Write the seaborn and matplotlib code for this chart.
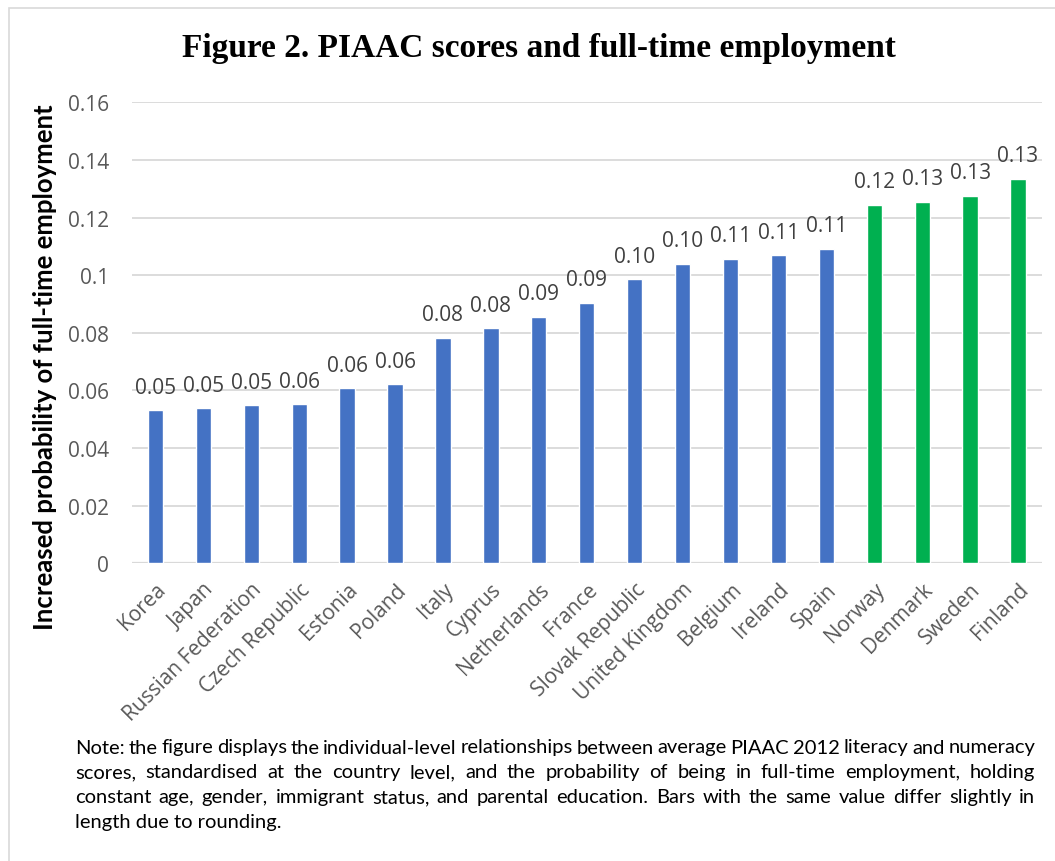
import matplotlib
matplotlib.use("Agg")
import matplotlib.pyplot as plt
import seaborn as sns
from matplotlib.patches import Rectangle

countries = ["Korea", "Japan", "Russian Federation", "Czech Republic", "Estonia",
             "Poland", "Italy", "Cyprus", "Netherlands", "France", "Slovak Republic",
             "United Kingdom", "Belgium", "Ireland", "Spain", "Norway", "Denmark",
             "Sweden", "Finland"]
values = [0.0532, 0.0538, 0.0549, 0.0552, 0.0608, 0.0622, 0.0782, 0.0815, 0.0856,
          0.0904, 0.0986, 0.1039, 0.1057, 0.1069, 0.1092, 0.1244, 0.1254, 0.1275,
          0.1334]
nordic = ["Norway", "Denmark", "Sweden", "Finland"]
yticks = [0, 0.02, 0.04, 0.06, 0.08, 0.1, 0.12, 0.14, 0.16]
ytick_labels = ["0", "0.02", "0.04", "0.06", "0.08", "0.1", "0.12", "0.14", "0.16"]

title = "Figure 2. PIAAC scores and full-time employment"
ylabel = "Increased probability of full-time employment"
note_lines = [
    "Note: the figure displays the individual-level relationships between average PIAAC 2012 literacy and numeracy",
    "scores, standardised at the country level, and the probability of being in full-time employment, holding",
    "constant age, gender, immigrant status, and parental education. Bars with the same value differ slightly in",
    "length due to rounding.",
]

BLUE = "#4472C4"
GREEN = "#00B050"
GRID = "#D9D9D9"
TXT = "#595959"

sns.set_theme(style="white")
plt.rcParams["font.family"] = ["Open Sans", "DejaVu Sans"]

W, H = 1055, 862
fig = plt.figure(figsize=(W / 100, H / 100), dpi=100)
fig.patch.set_facecolor("white")

# light frame round the chart
fig.patches.append(Rectangle((9 / W, -0.05), 1.2, 1 - 9 / H + 0.05,
                             transform=fig.transFigure, fill=False,
                             edgecolor="#D9D9D9", linewidth=1.2))

ax = fig.add_axes([131.5 / W, 1 - 564.3 / H, (1042 - 131.5) / W, (564.3 - 103.3) / H])

palette = {c: (GREEN if c in nordic else BLUE) for c in countries}
sns.barplot(x=countries, y=values, hue=countries, palette=palette, legend=False,
            width=0.32, saturation=1, ax=ax, zorder=3)

for cont in ax.containers:
    ax.bar_label(cont, fmt="%.2f", padding=9, fontsize=15, color="#404040")

ax.set_ylim(0, 0.16)
ax.set_xlim(-0.5, len(countries) - 0.5)
ax.set_yticks(yticks)
ax.set_yticklabels(ytick_labels)
ax.yaxis.grid(True, color=GRID, linewidth=1.3, zorder=0)
ax.set_axisbelow(True)
for s in ax.spines.values():
    s.set_visible(False)
ax.axhline(0, color=GRID, linewidth=1.6, zorder=2)

ax.tick_params(axis="y", length=0, pad=16, labelsize=15, labelcolor=TXT)
ax.tick_params(axis="x", length=0, pad=11, labelsize=15, labelcolor=TXT)
for lab in ax.get_xticklabels():
    lab.set_rotation(45)
    lab.set_ha("right")
    lab.set_va("top")
    lab.set_rotation_mode("anchor")
ax.set_xlabel("")
ax.set_ylabel("")

fig.text(45 / W, 1 - 367 / H, ylabel, rotation=90, ha="center", va="center",
         fontsize=18.5, fontweight="bold", color="black", family=["Lato", "DejaVu Sans"])

fig.text(539 / W, 1 - 48 / H, title, ha="center", va="center", fontsize=24,
         fontweight="bold", color="black", family=["Liberation Serif", "DejaVu Serif"])

# justified note below the chart
note_font = dict(fontsize=14.5, color="black", family=["Lato", "DejaVu Sans"])
left_px, right_px = 75, 1035
line_y = [748, 773, 798, 823]
fig.canvas.draw()
renderer = fig.canvas.get_renderer()
for i, line in enumerate(note_lines):
    y = 1 - line_y[i] / H
    if i == len(note_lines) - 1:
        fig.text(left_px / W, y, line, ha="left", va="center", **note_font)
        continue
    words = line.split(" ")
    arts = [fig.text(0, y, w, ha="left", va="center", **note_font) for w in words]
    widths = [a.get_window_extent(renderer).width for a in arts]
    gap = (right_px - left_px - sum(widths)) / (len(words) - 1)
    x = left_px
    for a, wdt in zip(arts, widths):
        a.set_x(x / W)
        x += wdt + gap

fig.savefig("out.png", dpi=100, facecolor="white")
